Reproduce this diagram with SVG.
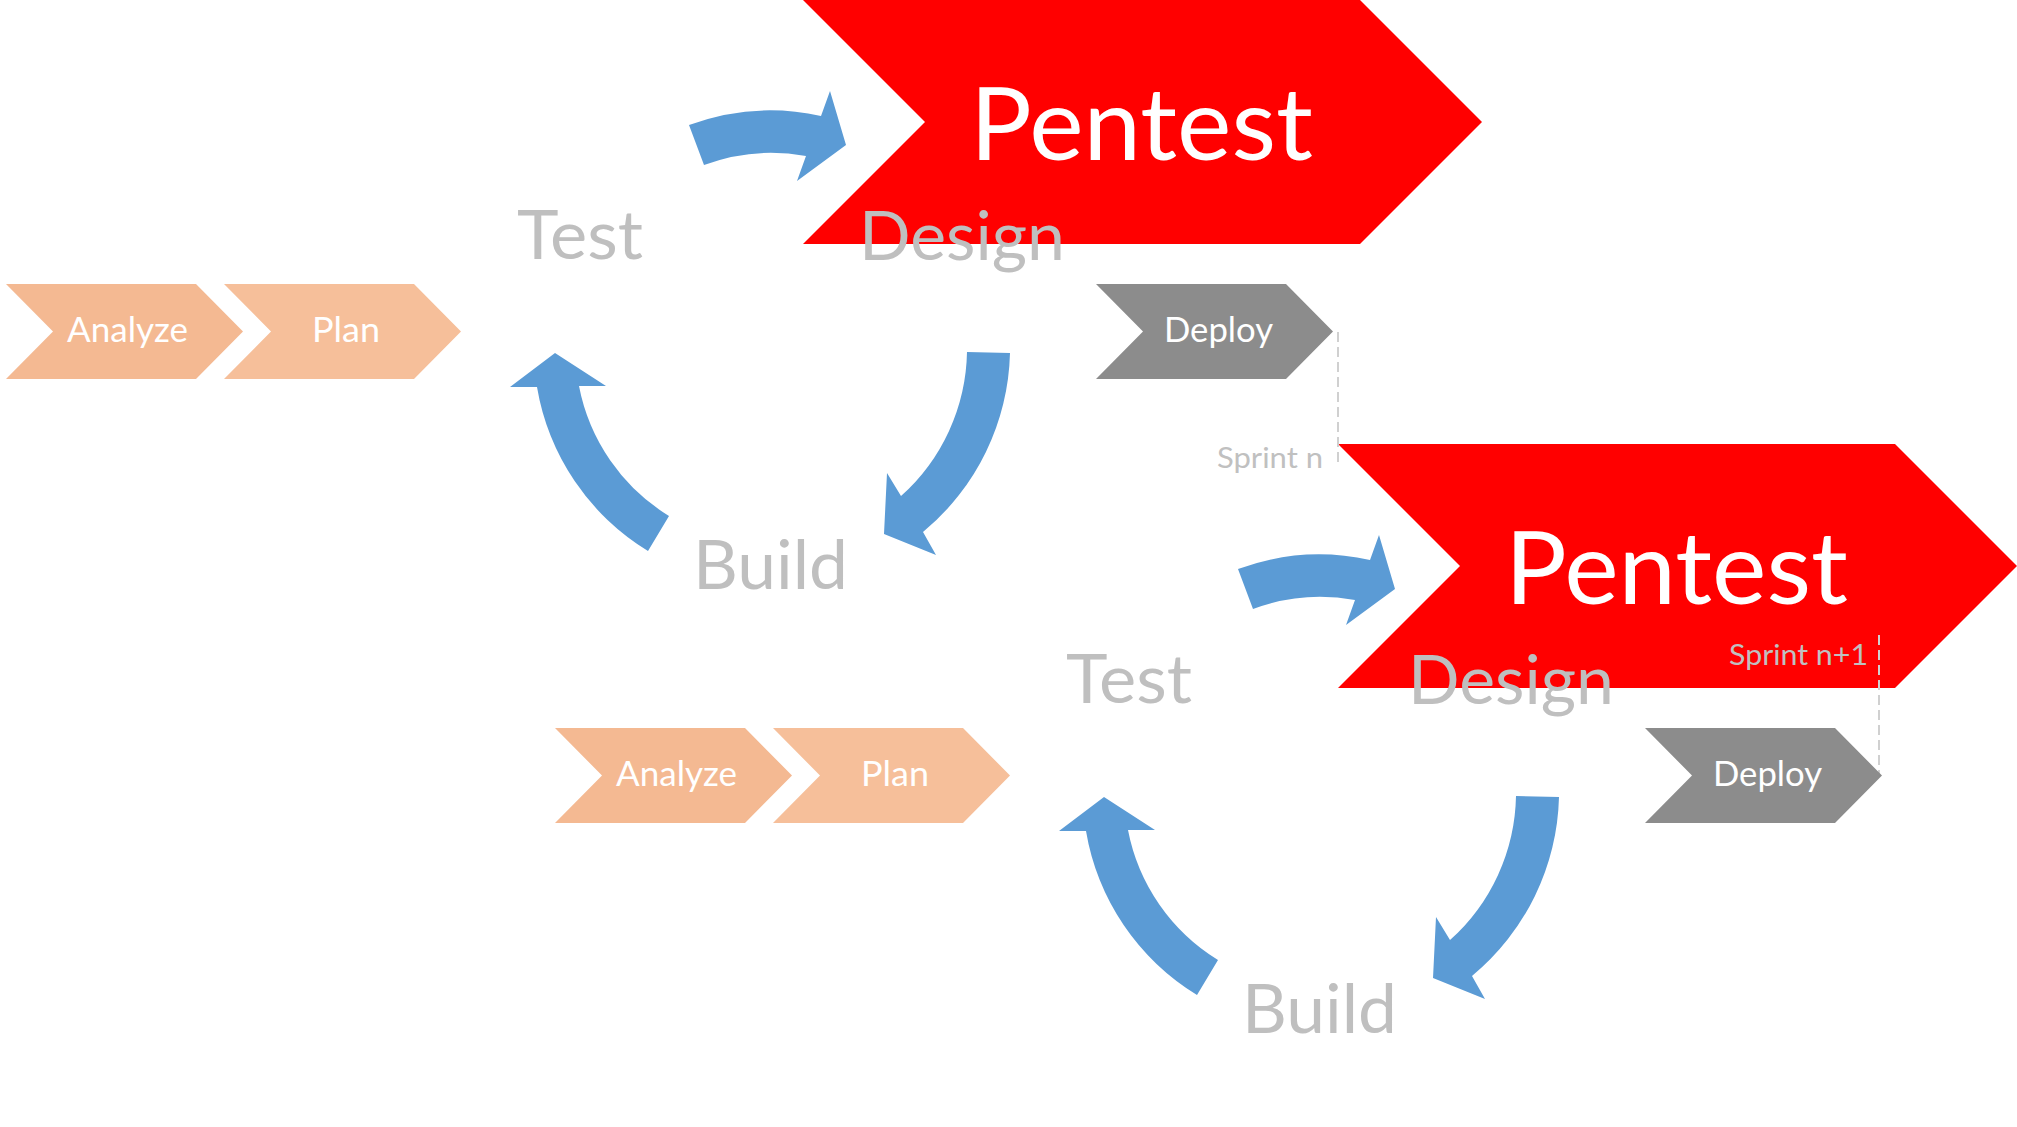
<svg xmlns="http://www.w3.org/2000/svg" width="2017" height="1127" viewBox="0 0 2017 1127">
<style>
  .bg { fill: #FFFFFF; }
  .red { fill: #FF0000; }
  .an { fill: #F4B992; }
  .pl { fill: #F6BF9A; }
  .dep { fill: #8C8C8C; }
  .arrow { fill: #5B9BD5; }
  .txt { font-family: "Lato", "Liberation Sans", "DejaVu Sans", sans-serif; }
  .big { font-size: 100px; fill: #FFFFFF; }
  .phase { font-size: 68px; fill: #BFBFBF; }
  .small { font-size: 35px; fill: #FFFFFF; }
  .sprint { font-size: 28px; fill: #C0C0C0; }
  .dash { stroke: #D0D0D0; stroke-width: 2; stroke-dasharray: 10 5; fill: none; }
</style>
<defs>
  <polygon id="redChevron" points="803,0 1360,0 1482,122 1360,244 803,244 925,122"/>
  <polygon id="smallChevron" points="0,0 190,0 237,47.5 190,95 0,95 47,47.5"/>
  <path id="arrowTop" d="M689,125 A236,236 0 0 1 821,116 L830,91 L846,145 L797,181 L806,156 A193,193 0 0 0 704,165 Z"/>
  <path id="arrowDown" d="M967,352 L1010,353 A240,240 0 0 1 923,532 L936,555 L884,534 L887,473 L901,496 A198,198 0 0 0 967,352 Z"/>
  <path id="arrowLeft" d="M648,551 A238,238 0 0 1 537,387 L510,387 L555,353 L606,386 L579,386 A196,196 0 0 0 669,516 Z"/>
</defs>
<rect class="bg" x="0" y="0" width="2017" height="1127"/>

<!-- Sprint n -->
<g id="pentest-1">
  <use href="#redChevron" class="red"/>
  <text class="txt big" x="970" y="160" textLength="343" lengthAdjust="spacingAndGlyphs">Pentest</text>
</g>
<g id="pentest-2" transform="translate(535,444)">
  <use href="#redChevron" class="red"/>
  <text class="txt big" x="970" y="160" textLength="343" lengthAdjust="spacingAndGlyphs">Pentest</text>
</g>

<g id="connectors">
  <use href="#arrowTop" class="arrow"/>
  <use href="#arrowDown" class="arrow"/>
  <use href="#arrowLeft" class="arrow"/>
  <g transform="translate(549,444)">
    <use href="#arrowTop" class="arrow"/>
    <use href="#arrowDown" class="arrow"/>
    <use href="#arrowLeft" class="arrow"/>
  </g>
</g>

<g id="sprint-markers">
  <line class="dash" x1="1338" y1="332" x2="1338" y2="466"/>
  <line class="dash" x1="1879" y1="635" x2="1879" y2="776"/>
</g>

<g id="analyze-1">
  <use href="#smallChevron" class="an" transform="translate(6,284)"/>
  <text class="txt small" x="67" y="342" textLength="121" lengthAdjust="spacingAndGlyphs">Analyze</text>
</g>
<g id="plan-1">
  <use href="#smallChevron" class="pl" transform="translate(224,284)"/>
  <text class="txt small" x="312" y="342" textLength="68" lengthAdjust="spacingAndGlyphs">Plan</text>
</g>
<g id="deploy-1">
  <use href="#smallChevron" class="dep" transform="translate(1096,284)"/>
  <text class="txt small" x="1164" y="342" textLength="109" lengthAdjust="spacingAndGlyphs">Deploy</text>
</g>
<g id="test-1">
  <text class="txt phase" x="517" y="259" textLength="126" lengthAdjust="spacingAndGlyphs">Test</text>
</g>
<g id="design-1">
  <text class="txt phase" x="859" y="260" textLength="206" lengthAdjust="spacingAndGlyphs">Design</text>
</g>
<g id="build-1">
  <text class="txt phase" x="693" y="589" textLength="155" lengthAdjust="spacingAndGlyphs">Build</text>
</g>
<g id="sprint-n-label">
  <text class="txt sprint" x="1217" y="468" textLength="106" lengthAdjust="spacingAndGlyphs">Sprint n</text>
</g>

<!-- Sprint n+1 -->
<g id="analyze-2" transform="translate(549,444)">
  <use href="#smallChevron" class="an" transform="translate(6,284)"/>
  <text class="txt small" x="67" y="342" textLength="121" lengthAdjust="spacingAndGlyphs">Analyze</text>
</g>
<g id="plan-2" transform="translate(549,444)">
  <use href="#smallChevron" class="pl" transform="translate(224,284)"/>
  <text class="txt small" x="312" y="342" textLength="68" lengthAdjust="spacingAndGlyphs">Plan</text>
</g>
<g id="deploy-2" transform="translate(549,444)">
  <use href="#smallChevron" class="dep" transform="translate(1096,284)"/>
  <text class="txt small" x="1164" y="342" textLength="109" lengthAdjust="spacingAndGlyphs">Deploy</text>
</g>
<g id="test-2" transform="translate(549,444)">
  <text class="txt phase" x="517" y="259" textLength="126" lengthAdjust="spacingAndGlyphs">Test</text>
</g>
<g id="design-2" transform="translate(549,444)">
  <text class="txt phase" x="859" y="260" textLength="206" lengthAdjust="spacingAndGlyphs">Design</text>
</g>
<g id="build-2" transform="translate(549,444)">
  <text class="txt phase" x="693" y="589" textLength="155" lengthAdjust="spacingAndGlyphs">Build</text>
</g>
<g id="sprint-n1-label">
  <text class="txt sprint" x="1729" y="665" textLength="139" lengthAdjust="spacingAndGlyphs">Sprint n+1</text>
</g>
</svg>
